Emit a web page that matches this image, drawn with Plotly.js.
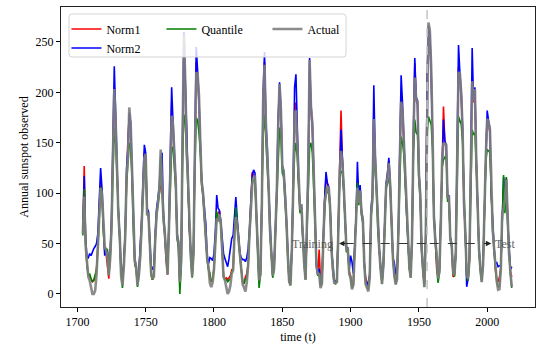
<!DOCTYPE html>
<html>
<head>
<meta charset="utf-8">
<script src="https://cdn.plot.ly/plotly-3.0.1.min.js"></script>
<style>
html,body{margin:0;padding:0;background:#fff;}
#chart{width:538px;height:345px;}
</style>
</head>
<body>
<div id="chart"></div>
<script>
const startYear = 1704;
const xTicks = [1700, 1750, 1800, 1850, 1900, 1950, 2000];
const yTicks = [0, 50, 100, 150, 200, 250];
const splitYear = 1956;

const actual = [
60.0, 96.7, 48.3, 33.3, 16.7, 13.3,
5.0, 0.0, 0.0, 3.3, 18.3, 45.0, 78.3, 105.0, 100.0, 65.0,
46.7, 43.3, 36.7, 18.3, 35.0, 66.7, 130.0, 203.3, 171.7, 121.7,
78.3, 58.3, 18.3, 8.3, 26.7, 56.7, 116.7, 135.0, 185.0, 168.3,
121.7, 66.7, 33.3, 26.7, 8.3, 18.3, 36.7, 66.7, 100.0, 134.8,
139.0, 79.5, 79.7, 51.2, 20.3, 16.0, 17.0, 54.0, 79.3, 90.0,
104.8, 143.2, 102.0, 75.2, 60.7, 34.8, 19.0, 63.0, 116.3, 176.8,
168.0, 136.0, 110.8, 58.0, 51.0, 11.7, 33.0, 154.2, 257.3, 209.8,
141.3, 113.5, 64.2, 38.0, 17.0, 40.2, 138.2, 220.0, 218.2, 196.8,
149.8, 111.0, 100.0, 78.2, 68.3, 35.5, 26.7, 10.7, 6.8, 11.3,
24.2, 56.7, 75.0, 71.8, 79.2, 70.3, 46.8, 16.8, 13.5, 4.2,
0.0, 2.3, 8.3, 20.3, 23.2, 59.0, 76.3, 68.3, 52.9, 38.5,
24.2, 9.2, 6.3, 2.2, 11.4, 28.2, 59.9, 83.0, 108.5, 115.2,
117.4, 80.8, 44.3, 13.4, 19.5, 85.8, 192.7, 227.3, 168.7, 143.0,
105.5, 63.3, 40.3, 18.1, 25.1, 65.8, 102.7, 166.3, 208.3, 182.5,
126.3, 122.0, 102.7, 74.1, 39.0, 12.7, 8.2, 43.4, 104.4, 178.3,
182.2, 146.6, 112.1, 83.5, 89.2, 57.8, 30.7, 13.9, 62.8, 123.6,
232.0, 185.3, 169.2, 110.1, 74.5, 28.3, 18.9, 20.7, 5.7, 10.0,
53.7, 90.5, 99.0, 106.1, 105.8, 86.3, 42.4, 21.8, 11.2, 10.4,
11.8, 59.5, 121.7, 142.0, 130.0, 106.6, 69.4, 43.8, 44.4, 20.2,
15.7, 4.6, 8.5, 40.8, 70.1, 105.5, 90.1, 102.8, 80.9, 73.2,
30.9, 9.5, 6.0, 2.4, 16.1, 79.0, 95.0, 173.6, 134.6, 105.7,
62.7, 43.5, 23.7, 9.7, 27.9, 74.0, 106.5, 114.7, 129.7, 108.2,
59.4, 35.1, 18.6, 9.2, 14.6, 60.2, 132.8, 190.6, 182.6, 148.0,
113.0, 79.2, 50.8, 27.1, 16.1, 55.3, 154.3, 214.7, 193.0, 190.7,
118.9, 98.3, 45.0, 20.1, 6.6, 54.2, 200.7, 269.3, 261.7, 225.1,
159.0, 76.4, 53.4, 39.9, 15.0, 22.0, 66.8, 132.9, 150.0, 149.4,
148.0, 94.4, 97.6, 54.1, 49.2, 22.5, 18.4, 39.3, 131.0, 220.1,
218.9, 198.9, 162.4, 91.0, 60.5, 20.6, 14.8, 33.9, 123.0, 211.1,
191.8, 203.3, 133.0, 76.1, 44.9, 25.1, 11.6, 28.9, 88.3, 136.3,
173.9, 170.4, 163.6, 99.3, 65.3, 45.8, 24.7, 12.6, 4.2, 4.8,
24.9, 80.8, 84.5, 94.0, 113.3, 69.8, 39.8, 21.7, 7.0
];

const norm1 = [
62, 127, 52, 30, 20, 17,
14, 12, 13, 16, 25, 48, 85, 112, 98, 62,
42, 40, 30, 15, 38, 72, 140, 205, 168, 118,
80, 55, 22, 12, 30, 60, 120, 155, 178, 160,
118, 68, 30, 25, 10, 20, 40, 70, 105, 140,
135, 82, 78, 48, 20, 14, 20, 56, 82, 92,
103, 108, 104, 75, 58, 32, 19, 65, 120, 190,
165, 135, 108, 56, 48, 10, 30, 150, 245, 205,
140, 110, 62, 36, 18, 42, 140, 230, 215, 190,
148, 110, 98, 76, 66, 34, 25, 14, 12, 15,
26, 58, 78, 80, 82, 70, 45, 18, 15, 16,
14, 16, 18, 24, 25, 60, 80, 70, 52, 38,
24, 12, 10, 17, 20, 30, 60, 85, 121, 118,
115, 80, 42, 12, 20, 85, 190, 230, 165, 140,
104, 62, 40, 18, 25, 64, 102, 168, 205, 180,
125, 120, 100, 72, 38, 12, 10, 44, 105, 180,
190, 145, 110, 82, 86, 56, 30, 15, 63, 125,
225, 182, 165, 108, 72, 28, 20, 44, 12, 12,
55, 92, 115, 108, 104, 85, 42, 22, 14, 12,
13, 62, 125, 182, 132, 105, 68, 43, 44, 22,
18, 8, 10, 42, 72, 110, 92, 104, 80, 72,
30, 16, 12, 8, 18, 80, 98, 178, 132, 104,
62, 43, 24, 12, 28, 75, 108, 116, 132, 108,
60, 35, 20, 12, 16, 62, 135, 200, 180, 146,
112, 78, 50, 26, 17, 56, 155, 229, 192, 188,
120, 96, 44, 20, 10, 55, 205, 262, 255, 220,
158, 78, 54, 25, 16, 22, 68, 140, 186, 150,
146, 95, 96, 55, 48, 17, 18, 40, 132, 225,
215, 196, 160, 90, 60, 18, 14, 34, 125, 215,
190, 200, 132, 75, 44, 24, 17, 30, 90, 138,
175, 168, 160, 98, 64, 45, 24, 14, 12, 17,
26, 80, 86, 95, 115, 70, 40, 22, 17
];

const norm2 = [
65, 117, 55, 37, 36, 40,
38, 42, 45, 47, 50, 60, 92, 125, 105, 70,
38, 45, 42, 28, 40, 75, 150, 226, 180, 125,
82, 58, 25, 15, 32, 62, 125, 145, 180, 170,
120, 70, 35, 28, 12, 22, 42, 72, 110, 148,
140, 85, 82, 52, 28, 24, 28, 60, 85, 95,
108, 135, 140, 78, 62, 36, 24, 68, 125, 205,
170, 140, 112, 60, 52, 15, 35, 160, 260, 210,
145, 115, 66, 40, 22, 45, 145, 245, 222, 195,
150, 112, 100, 80, 70, 38, 30, 36, 35, 33,
40, 62, 98, 85, 83, 72, 50, 40, 35, 30,
27, 35, 45, 55, 58, 75, 96, 75, 55, 40,
36, 34, 34, 32, 36, 45, 65, 90, 118, 123,
120, 82, 45, 15, 22, 90, 200, 240, 170, 145,
106, 65, 42, 20, 28, 66, 105, 175, 210, 185,
128, 122, 104, 75, 40, 15, 12, 46, 110, 205,
218, 148, 112, 85, 88, 58, 32, 16, 65, 128,
234, 188, 170, 112, 76, 30, 22, 25, 8, 14,
58, 95, 121, 110, 106, 88, 45, 24, 14, 12,
14, 63, 124, 163, 135, 108, 70, 45, 46, 24,
38, 32, 20, 45, 75, 131, 95, 108, 82, 75,
32, 14, 10, 8, 20, 85, 100, 207, 138, 106,
64, 45, 26, 12, 30, 78, 110, 120, 135, 110,
62, 36, 31, 20, 18, 65, 140, 217, 190, 150,
114, 80, 52, 28, 18, 58, 160, 234, 195, 192,
122, 100, 46, 22, 10, 58, 210, 266, 258, 222,
160, 80, 56, 30, 18, 24, 70, 138, 173, 152,
148, 96, 98, 56, 50, 24, 20, 42, 135, 247,
220, 200, 164, 92, 62, 7, 15, 36, 128, 244,
193, 205, 135, 77, 46, 26, 14, 32, 92, 140,
182, 172, 164, 100, 66, 47, 30, 31, 27, 28,
28, 85, 116, 98, 114, 72, 42, 24, 27
];

const quantile = [
58, 104, 50, 28, 18, 20,
15, 12, 14, 18, 24, 45, 80, 106, 98, 60,
45, 45, 44, 20, 35, 62, 118, 165, 150, 115,
75, 52, 18, 6, 26, 55, 110, 128, 150, 145,
115, 62, 30, 24, 7, 18, 35, 64, 96, 128,
130, 78, 80, 50, 18, 14, 18, 52, 78, 88,
100, 135, 100, 72, 58, 33, 20, 60, 108, 146,
145, 128, 105, 55, 45, 0, 28, 135, 178, 170,
135, 108, 60, 35, 16, 38, 125, 175, 172, 160,
140, 108, 96, 74, 64, 34, 24, 21, 12, 14,
24, 56, 82, 73, 78, 68, 44, 17, 14, 14,
12, 14, 15, 22, 24, 58, 86, 70, 50, 36,
24, 12, 10, 15, 15, 28, 58, 80, 115, 112,
112, 78, 40, 6, 18, 80, 160, 178, 150, 135,
100, 60, 38, 16, 24, 62, 98, 140, 165, 155,
120, 116, 98, 70, 37, 12, 9, 42, 100, 140,
150, 135, 106, 80, 85, 55, 28, 14, 60, 115,
145, 150, 140, 105, 70, 27, 18, 20, 8, 11,
52, 88, 106, 100, 102, 84, 40, 20, 11, 10,
12, 58, 116, 122, 120, 102, 66, 42, 42, 20,
16, 6, 9, 40, 68, 110, 88, 100, 78, 70,
29, 10, 7, 4, 16, 76, 92, 130, 125, 100,
60, 42, 22, 10, 26, 72, 104, 110, 115, 104,
58, 34, 18, 10, 14, 58, 125, 156, 150, 138,
108, 76, 48, 25, 16, 54, 140, 173, 160, 158,
112, 94, 42, 18, 7, 52, 160, 176, 172, 168,
145, 74, 52, 30, 11, 20, 64, 125, 133, 135,
138, 92, 92, 54, 47, 20, 17, 38, 125, 176,
172, 168, 150, 88, 58, 18, 13, 32, 118, 163,
158, 160, 128, 74, 43, 22, 12, 28, 86, 132,
143, 142, 140, 96, 62, 44, 23, 12, 6, 8,
25, 78, 118, 80, 116, 68, 38, 20, 6
];

const years = actual.map((_, i) => startYear + i);
const FONT = '"Liberation Serif", "Times New Roman", "DejaVu Serif", serif';

const traces = [
  {x: years, y: norm1, name: 'Norm1', mode: 'lines', line: {color: '#ff0000', width: 1.6}, legend: 'legend'},
  {x: years, y: norm2, name: 'Norm2', mode: 'lines', line: {color: '#0000ff', width: 1.6}, legend: 'legend'},
  {x: years, y: quantile, name: 'Quantile', mode: 'lines', line: {color: '#008000', width: 1.6}, legend: 'legend2'},
  {x: years, y: actual, name: 'Actual', mode: 'lines', line: {color: 'rgba(128,128,128,0.9)', width: 2.6}, legend: 'legend3'}
];

// legend frame in plot-area fractions
const bx0 = 0.0169, bx1 = 0.6013, by0 = 0.8333, by1 = 0.9767;
const rx = 3 / 474, ry = 3 / 300;
const boxPath = `M${bx0+rx},${by0} L${bx1-rx},${by0} Q${bx1},${by0} ${bx1},${by0+ry} L${bx1},${by1-ry} Q${bx1},${by1} ${bx1-rx},${by1} L${bx0+rx},${by1} Q${bx0},${by1} ${bx0},${by1-ry} L${bx0},${by0+ry} Q${bx0},${by0} ${bx0+rx},${by0} Z`;

const legBase = {xanchor: 'left', yanchor: 'top', bgcolor: 'rgba(0,0,0,0)', borderwidth: 0,
  font: {family: FONT, size: 12, color: '#000'}, orientation: 'v', tracegroupgap: 0};

const axisBase = {
  ticks: 'outside', ticklen: 4, tickwidth: 1, tickcolor: '#000',
  showline: true, mirror: true, linecolor: '#222', linewidth: 1,
  showgrid: false, zeroline: false,
  tickfont: {family: FONT, size: 12, color: '#000'}
};

const legX = 0.0115;

const layout = {
  width: 538, height: 345,
  margin: {l: 61, r: 3, t: 7, b: 38, pad: 0},
  paper_bgcolor: '#fff', plot_bgcolor: '#fff',
  font: {family: FONT, size: 12, color: '#000'},
  showlegend: true,
  xaxis: Object.assign({}, axisBase, {
    range: [1688, 2035], tickmode: 'array', tickvals: xTicks, ticktext: xTicks.map(String),
    title: {text: 'time (t)', font: {family: FONT, size: 12, color: '#000'}, standoff: 4}
  }),
  yaxis: Object.assign({}, axisBase, {
    range: [-13, 284.7], tickmode: 'array', tickvals: yTicks, ticktext: yTicks.map(String),
    title: {text: 'Annual sunspot observed', font: {family: FONT, size: 12, color: '#000'}, standoff: 4}
  }),
  legend: Object.assign({}, legBase, {x: legX, y: 0.975}),
  legend2: Object.assign({}, legBase, {x: legX + 95/474, y: 0.975}),
  legend3: Object.assign({}, legBase, {x: legX + 201/474, y: 0.975}),
  shapes: [
    {type: 'path', xref: 'paper', yref: 'paper', path: boxPath, layer: 'above',
     fillcolor: 'rgba(255,255,255,0.8)', line: {color: '#d4d4d4', width: 1}},
    {type: 'line', xref: 'x', yref: 'paper', x0: splitYear, x1: splitYear, y0: 0, y1: 1, layer: 'above',
     line: {color: '#c4c4c4', width: 1.5, dash: 'dash'}},
    {type: 'line', xref: 'x', yref: 'y', x0: splitYear - 1, x1: 1894, y0: 50, y1: 50, layer: 'above',
     line: {color: '#333', width: 1, dash: 'dash'}},
    {type: 'line', xref: 'x', yref: 'y', x0: splitYear + 2, x1: 2000, y0: 50, y1: 50, layer: 'above',
     line: {color: '#333', width: 1, dash: 'dash'}}
  ],
  annotations: [
    {x: 1872, y: 50, xref: 'x', yref: 'y', text: 'Training', showarrow: false,
     font: {family: FONT, size: 12, color: 'rgba(70,70,70,0.85)'}},
    {x: 2013, y: 50, xref: 'x', yref: 'y', text: 'Test', showarrow: false,
     font: {family: FONT, size: 12, color: 'rgba(70,70,70,0.85)'}},
    {x: 1891.5, y: 50, ax: 1897, ay: 50, xref: 'x', yref: 'y', axref: 'x', ayref: 'y', text: '',
     showarrow: true, arrowhead: 2, arrowsize: 1.1, arrowwidth: 1, arrowcolor: '#222', standoff: 0},
    {x: 2003, y: 50, ax: 1997, ay: 50, xref: 'x', yref: 'y', axref: 'x', ayref: 'y', text: '',
     showarrow: true, arrowhead: 2, arrowsize: 1.1, arrowwidth: 1, arrowcolor: '#222', standoff: 0}
  ]
};

Plotly.newPlot('chart', traces, layout, {displayModeBar: false, staticPlot: true});
</script>
</body>
</html>
